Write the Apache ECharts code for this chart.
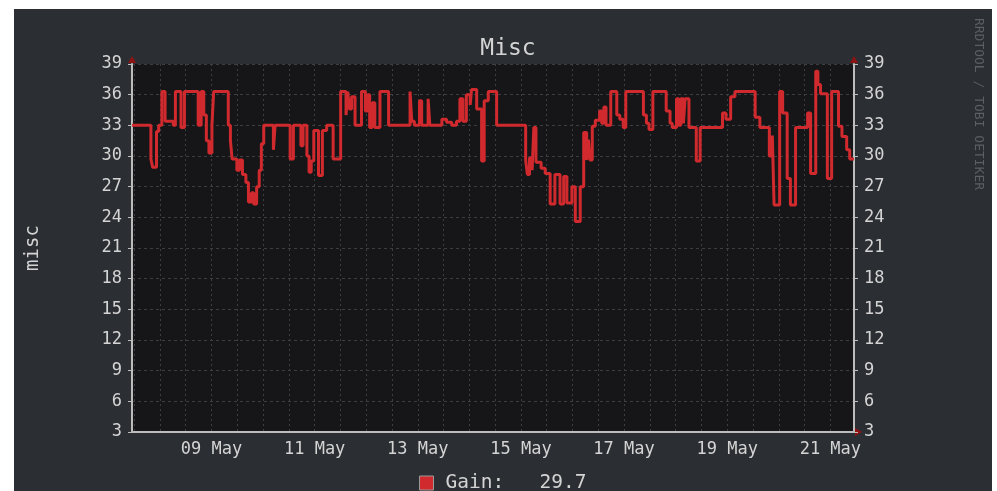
<!DOCTYPE html>
<html lang="en">
<head>
    <meta charset="UTF-8">
    <title>Misc</title>
    <script src="https://cdn.jsdelivr.net/npm/echarts@6/dist/echarts.min.js"></script>
    <style>
        body { margin: 0; background: #fff; }
        #panel { position: absolute; left: 14px; top: 9px; width: 978px; height: 482px; background: #2b2e32; }
        #chart { position: absolute; left: 0; top: 0; width: 997px; height: 491px; }
    </style>
</head>
<body>
<div id="panel"></div>
<div id="chart"></div>
<script>
    // hours counted from 07 May 00:00, each value holds until the next hour
    var changeHours = [
        11.0, 19.8, 20.6, 22.4, 23.4, 24.9, 26.4, 30.2, 31.2, 33.8, 35.4, 41.8, 43.2, 44.4, 45.6, 46.8, 48.2, 49.0,
        55.8, 56.8, 57.6, 59.8, 61.0, 62.4, 64.0, 65.2, 66.6, 67.6, 69.0, 70.2, 71.2, 72.3, 76.8, 77.6,
        84.6, 86.1, 89.6, 90.6, 92.4, 93.4, 94.4, 95.6, 97.8, 99.6, 101.6, 104.6, 108.1, 110.6, 111.4, 112.2,
        113.2, 114.8, 117.8, 119.6, 120.6, 121.6, 122.8, 124.0, 126.4, 130.4, 140.4, 141.2, 142.4, 144.8, 145.8,
        148.8, 149.6, 155.2, 157.4, 159.8, 162.0, 163.6, 165.0, 166.6, 168.4, 169.0, 171.4, 173.7, 174.9, 176.8,
        180.7, 194.2, 195.0, 196.0, 197.2, 198.0, 199.0, 201.4, 203.3, 205.6, 207.8, 210.2, 211.9, 213.4, 215.7,
        217.3, 219.6, 221.2, 222.6, 223.4, 224.2, 225.2, 226.6, 228.6, 229.6, 230.6, 231.6, 233.8, 236.6, 238.0,
        239.6, 240.8, 249.0, 250.4, 251.6, 253.4, 259.6, 261.4, 262.4, 264.4, 265.4, 266.4, 267.6, 268.4, 270.2,
        273.6, 275.4, 285.8, 287.4, 289.6, 291.6, 301.0, 303.2, 307.6, 309.0, 309.8, 312.4, 313.8, 315.9, 317.4,
        319.8, 325.4, 326.8, 329.2, 330.2, 331.4, 334.6, 336.6, 339.8, 341.4, 343.6, 345.0, 347.0
    ];
    var gainValues = [
        33.0, 29.7, 28.9, 32.4, 33.0, 36.3, 33.4, 33.0, 36.3, 32.8, 36.3, 33.0, 36.3, 34.0, 31.5, 30.3, 33.0, 36.3,
        33.0, 31.5, 29.7, 28.6, 29.6, 28.2, 27.4, 25.5, 26.4, 25.3, 27.0, 28.6, 31.2, 33.0, 30.6, 33.0,
        29.7, 33.0, 31.0, 33.0, 30.0, 28.4, 29.5, 32.5, 28.1, 32.5, 33.0, 29.7, 36.3, 34.0, 36.3, 34.6,
        35.8, 33.0, 36.3, 34.4, 36.0, 32.8, 35.2, 32.8, 36.3, 33.0, 36.3, 33.4, 33.0, 35.4, 33.0,
        35.6, 33.0, 33.6, 33.3, 33.0, 33.4, 35.6, 33.4, 36.0, 35.0, 36.5, 34.6, 29.5, 35.4, 36.3,
        33.0, 29.6, 28.2, 29.8, 28.6, 32.8, 29.4, 28.8, 28.3, 25.3, 28.2, 25.3, 28.0, 25.4, 27.0,
        23.6, 27.0, 32.3, 29.6, 31.6, 29.6, 32.9, 33.5, 34.4, 33.2, 34.8, 33.0, 36.3, 34.0, 33.6,
        32.8, 36.3, 34.0, 33.2, 32.6, 36.3, 34.4, 33.2, 32.8, 35.6, 33.0, 35.6, 33.2, 35.6, 32.8,
        29.5, 32.8, 34.2, 33.6, 35.8, 36.3, 33.8, 32.8, 30.0, 32.0, 25.2, 36.3, 34.2, 27.8, 25.2,
        32.8, 34.2, 28.3, 38.3, 37.0, 36.1, 27.8, 36.3, 32.9, 31.9, 30.6, 29.7, 29.7
    ];
    var dayLabelHours = [48, 96, 144, 192, 240, 288, 336];   // 09 May ... 21 May
    var gridHours = [];
    for (var g = 12; g <= 346; g += 12) gridHours.push(g);

    var startHour = 11, endHour = 347;
    var mono = 'DejaVu Sans Mono';
    var textColor = '#d4d4d4';
    var lineRed = '#d02a2e';

    var points = changeHours.map(function (h, i) { return [h, gainValues[i]]; });
    var lastGain = gainValues[gainValues.length - 1];

    function dayLabel(v) {
        var d = Math.round(7 + v / 24);
        return (d < 10 ? '0' : '') + d + ' May';
    }

    var chart = echarts.init(document.getElementById('chart'));
    chart.setOption({
        backgroundColor: 'transparent',
        animation: false,
        title: {
            text: 'Misc',
            left: 503,
            top: 33,
            textAlign: 'center',
            textStyle: { color: textColor, fontFamily: mono, fontSize: 23, fontWeight: 'normal' }
        },
        legend: {
            data: ['Gain'],
            left: 419,
            top: 473,
            padding: 0,
            icon: 'rect',
            itemWidth: 14,
            itemHeight: 14,
            itemStyle: { color: lineRed, borderColor: '#9a9a9a', borderWidth: 1 },
            formatter: function () { return 'Gain:   ' + lastGain.toFixed(1); },
            textStyle: { color: textColor, fontFamily: mono, fontSize: 19.5, padding: [0, 0, 0, 7] }
        },
        grid: {
            left: 132, right: 143, top: 64, bottom: 59,
            show: true, backgroundColor: '#161618', borderWidth: 0
        },
        xAxis: {
            type: 'value',
            min: startHour,
            max: endHour,
            axisLine: { lineStyle: { color: '#bdbdbd', width: 2 } },
            axisTick: { show: false, customValues: gridHours },
            axisLabel: {
                customValues: dayLabelHours,
                formatter: dayLabel,
                color: textColor, fontFamily: mono, fontSize: 17, margin: 9
            },
            splitLine: { show: true, lineStyle: { color: '#3d3e41', type: [2, 3], width: 1 } }
        },
        yAxis: [{
            type: 'value',
            min: 3, max: 39, interval: 3,
            name: 'misc',
            nameLocation: 'middle',
            nameGap: 89,
            nameTextStyle: { color: textColor, fontFamily: mono, fontSize: 19 },
            axisLine: { show: true, lineStyle: { color: '#bdbdbd', width: 2 } },
            axisTick: { show: true, length: 4, lineStyle: { color: '#bdbdbd' } },
            axisLabel: { color: textColor, fontFamily: mono, fontSize: 17, margin: 10 },
            splitLine: { show: true, lineStyle: { color: '#3d3e41', type: [3, 3], width: 1 } }
        }, {
            type: 'value',
            position: 'right',
            min: 3, max: 39, interval: 3,
            axisLine: { show: true, lineStyle: { color: '#bdbdbd', width: 2 } },
            axisTick: { show: true, length: 4, lineStyle: { color: '#bdbdbd' } },
            axisLabel: { color: textColor, fontFamily: mono, fontSize: 17, margin: 10 },
            splitLine: { show: false }
        }],
        series: [{
            name: 'Gain',
            type: 'line',
            step: 'end',
            data: points,
            showSymbol: false,
            lineStyle: { color: lineRed, width: 3 },
            itemStyle: { color: lineRed }
        }]
    });

    // little dark red arrow heads at the axis ends, and the rrdtool signature
    var tl = chart.convertToPixel({ gridIndex: 0 }, [startHour, 39]);
    var br = chart.convertToPixel({ gridIndex: 0 }, [endHour, 3]);
    var arrowRed = '#8e1414';
    chart.setOption({
        graphic: [
            { type: 'polygon', shape: { points: [[tl[0] - 4, tl[1] - 1], [tl[0] + 4, tl[1] - 1], [tl[0], tl[1] - 8]] }, style: { fill: arrowRed } },
            { type: 'polygon', shape: { points: [[br[0] - 4, tl[1] - 1], [br[0] + 4, tl[1] - 1], [br[0], tl[1] - 8]] }, style: { fill: arrowRed } },
            { type: 'polygon', shape: { points: [[br[0] + 1, br[1] - 4], [br[0] + 1, br[1] + 4], [br[0] + 8, br[1]]] }, style: { fill: arrowRed } },
            {
                type: 'text', x: 978, y: 104, rotation: -Math.PI / 2,
                style: { text: 'RRDTOOL / TOBI OETIKER', fill: '#5c5f63', font: '13px "DejaVu Sans Mono"', align: 'center', verticalAlign: 'middle' }
            }
        ]
    });
</script>
</body>
</html>
